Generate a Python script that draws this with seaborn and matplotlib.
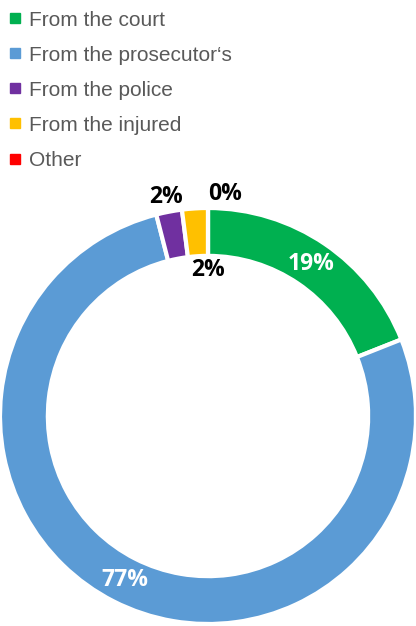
import numpy as np
import seaborn as sns
import matplotlib.pyplot as plt
from matplotlib.lines import Line2D

categories = ['From the court', 'From the prosecutor‘s', 'From the police', 'From the injured', 'Other']
shares = [19, 77, 2, 2, 0]
pct_labels = ['19%', '77%', '2%', '2%', '0%']
colors = ['#00B050', '#5B9BD5', '#7030A0', '#FFC000', '#FF0000']

sns.set_theme(style='white')
plt.rcParams['font.family'] = ['Liberation Sans', 'DejaVu Sans']

fig = plt.figure(figsize=(4.16, 6.26), dpi=100)
ax = fig.add_axes([0, 0.0032, 1, 0.6645])

wedges, _ = ax.pie(shares, colors=colors, startangle=90, counterclock=False,
                   radius=1, wedgeprops=dict(width=0.23, edgecolor='white', linewidth=3))
ax.set_xlim(-1, 1)
ax.set_ylim(-1, 1)
ax.set_aspect('equal')

# label placement: radius and colour per slice
label_r = [0.885, 0.885, 1.07, 0.70, 1.07]
label_c = ['white', 'white', 'black', 'black', 'black']
cum = np.cumsum([0] + shares[:-1])
for i, (s, c0) in enumerate(zip(shares, cum)):
    ang = np.deg2rad(90 - (c0 + s / 2) / 100 * 360)
    if i == 3:
        ang = np.deg2rad(90)
    if i == 4:
        ang = np.deg2rad(85.5)
    ax.text(label_r[i] * np.cos(ang), label_r[i] * np.sin(ang), pct_labels[i],
            ha='center', va='center', fontsize=16.5, fontweight='bold',
            color=label_c[i], family=['Open Sans', 'DejaVu Sans'])

handles = [Line2D([], [], marker='s', linestyle='', markersize=7, color=c) for c in colors]
leg = fig.legend(handles, categories, loc='upper left', bbox_to_anchor=(0.008, 0.988),
                 frameon=False, fontsize=15, labelspacing=0.77, handlelength=0.8,
                 handletextpad=0.3, borderaxespad=0.0, borderpad=0.15)
for t in leg.get_texts():
    t.set_color('#595959')

fig.savefig('out.png', dpi=100)
